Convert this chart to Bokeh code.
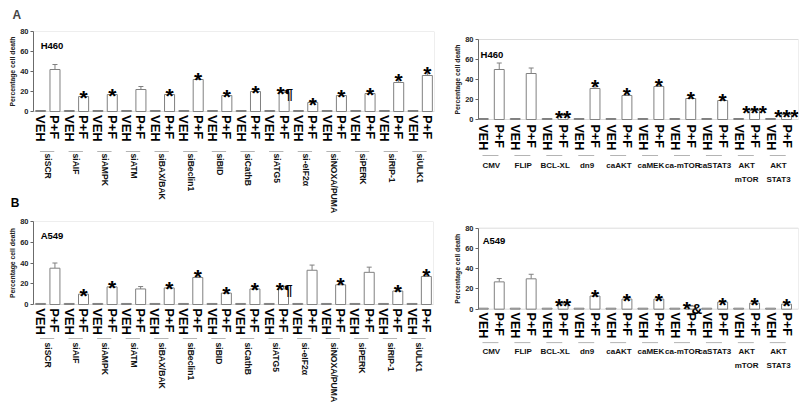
import math
from bokeh.plotting import figure
from bokeh.models import (Range1d, FixedTicker, BoxAnnotation, ColumnDataSource,
                          Whisker, TeeHead, Title, LinearAxis)
from bokeh.layouts import column, row
from bokeh.embed import file_html
from bokeh.resources import INLINE
from bokeh.core.properties import value

FONT = "Liberation Sans"
GRAY = "#808080"

# ---------------- data ----------------
sub_labels = ["VEH", "P+F"]
y_ticks = [0, 20, 40, 60, 80]
y_label = "Percentage cell death"

si_groups = ["siSCR", "siAIF", "siAMPK", "siATM", "siBAX/BAK", "siBeclin1", "siBID",
             "siCathB", "siATG5", "si-eIF2\u03b1", "siNOXA/PUMA", "siPERK", "siRIP-1", "siULK1"]
ov_groups = ["CMV", "FLIP", "BCL-XL", "dn9", "caAKT", "caMEK", "ca-mTOR", "caSTAT3",
             "AKT\nmTOR", "AKT\nSTAT3"]

# H460, siRNA panel
h460_si_veh = [1, 1, 1, 1, 1, 1, 1, 1, 1, 1, 1, 1, 1, 1]
h460_si_pf = [42, 15, 17, 22, 17, 32, 16, 20, 19, 9, 16, 18, 29, 36]
h460_si_err = [5, 2, 2, 3, 2, 3.5, 2, 2.5, 2, 1.5, 2, 2.5, 5, 5]
h460_si_marks = ["", "*", "*", "", "*", "*", "*", "*", "*\u00b6", "*", "*", "*", "*", "*"]

# H460, overexpression panel
h460_ov_veh = [1, 1, 1, 1, 1, 1, 1, 1, 1, 1]
h460_ov_pf = [50, 46, 4, 31, 24, 33, 21, 19, 9, 5]
h460_ov_err = [6.5, 5.5, 1, 5, 4, 4.3, 3.3, 3.3, 1.3, 1]
h460_ov_marks = ["", "", "**", "*", "*", "*", "*", "*", "***", "***"]

# A549, siRNA panel
a549_si_veh = [1, 1, 1, 1, 1, 1, 1, 1, 1, 1, 1, 1, 1, 1]
a549_si_pf = [35, 10, 17, 15, 16, 26, 11, 15, 15, 33, 19, 31, 13, 27]
a549_si_err = [5, 1.5, 2.5, 2.3, 2, 4, 2.3, 2, 2.6, 5, 3, 5, 2, 3.5]
a549_si_marks = ["", "*", "*", "", "*", "*", "*", "*", "*\u00b6", "", "*", "", "*", "*"]

# A549, overexpression panel
a549_ov_veh = [1, 1, 1, 1, 1, 1, 1, 1, 1, 1]
a549_ov_pf = [27, 30, 5, 13, 10, 10, 3, 7, 6, 5]
a549_ov_err = [3.3, 4.5, 1.3, 2.6, 2, 1.5, 0.7, 1, 1.3, 1.3]
a549_ov_marks = ["", "", "**", "*", "*", "*", "*&", "*", "*", "*"]


def make_panel(groups, veh, pf, err, marks, cell, g, title=None):
    n = len(groups)
    scale = g["scale"]
    ytop = 80 + (g["top80"] - g["mt"]) / scale
    ybot = ytop - g["fh"] / scale
    p = figure(frame_width=g["fw"], frame_height=g["fh"], output_backend="svg",
               toolbar_location=None, title=title,
               x_range=Range1d(g["x0"], 2 * n - 1 + g["x1"]), y_range=Range1d(ybot, ytop),
               x_axis_location=None, min_border_left=g["ml"], min_border_right=g["mr"],
               min_border_top=g["mt"], min_border_bottom=0)
    p.outline_line_color = None
    p.grid.visible = False
    p.background_fill_color = "white"

    ax = p.yaxis[0]
    ax.ticker = FixedTicker(ticks=y_ticks)
    ax.bounds = (0, 80)
    ax.major_label_text_font = FONT
    ax.major_label_text_font_size = "7.5px"
    ax.major_label_text_font_style = "bold"
    ax.major_label_text_color = "#222222"
    ax.major_label_standoff = 2
    ax.major_tick_in = 0
    ax.major_tick_out = 3
    ax.minor_tick_line_color = None
    ax.axis_line_color = "#666666"
    ax.major_tick_line_color = "#666666"

    # y-axis title, placed beside the 0-80 part of the axis
    label_len = 70
    off = g["fh"] - ((ytop - 40) * scale + label_len / 2)
    p.add_layout(Title(text=y_label, align="left", offset=off, standoff=3,
                       text_font=FONT, text_font_size="6.8px", text_font_style="bold",
                       text_color="#222222"), "left")

    p.add_layout(BoxAnnotation(bottom=0, top=80, fill_color=None, fill_alpha=0,
                               line_color="#8c8c8c", line_width=1))

    xs, tops, labs = [], [], []
    for i in range(n):
        xs += [2 * i, 2 * i + 1]
        tops += [veh[i], pf[i]]
        labs += sub_labels
    src_bar = ColumnDataSource(dict(x=xs, top=tops, label=labs))
    p.vbar(x="x", top="top", bottom=0, width=g["bw"], fill_color="white",
           line_color=GRAY, line_width=1, source=src_bar)

    px = [2 * i + 1 for i in range(n)]
    upper = [pf[i] + err[i] for i in range(n)]
    stars = [m.rstrip("\u00b6&") for m in marks]
    extras = [m[len(s):] for m, s in zip(marks, stars)]
    sx = [px[i] - (0.25 if extras[i] else 0) for i in range(n)]
    ex = [px[i] + 0.05 for i in range(n)]
    sy = [u - 3.0 / scale for u in upper]
    src_pf = ColumnDataSource(dict(x=px, top=pf, upper=upper, star=stars, extra=extras,
                                   sx=sx, ex=ex, sy=sy))
    p.add_layout(Whisker(source=src_pf, base="x", lower="top", upper="upper",
                         dimension="height", line_color=GRAY, line_width=1,
                         upper_head=TeeHead(size=5, line_color=GRAY, line_width=1),
                         lower_head=None))
    p.text(x="sx", y="sy", text="star", source=src_pf, text_font=value(FONT),
           text_font_size="21px", text_font_style="bold", text_align="center",
           text_baseline="alphabetic", text_color="black")
    p.text(x="ex", y="sy", text="extra", source=src_pf, text_font=value(FONT),
           text_font_size="15px", text_font_style="bold", text_align="left",
           text_baseline="alphabetic", text_color="black")

    # VEH / P+F labels
    p.text(x="x", y=g["sub_y"], text="label", source=src_bar, angle=-math.pi / 2,
           text_font=value(FONT), text_font_size=g["sub_fs"], text_font_style="bold",
           text_align="left", text_baseline="middle", text_color="black")

    # group underlines and labels
    gsrc = ColumnDataSource(dict(x0=[2 * i - 0.05 for i in range(n)],
                                 x1=[2 * i + 0.95 for i in range(n)],
                                 xc=[2 * i + 0.5 for i in range(n)],
                                 name=groups))
    p.segment(x0="x0", x1="x1", y0=g["line_y"], y1=g["line_y"], source=gsrc,
              line_color="#b4b4b4", line_width=1)
    if g["vertical"]:
        p.text(x="xc", y=g["grp_y"], text="name", source=gsrc, angle=-math.pi / 2,
               text_font=value(FONT), text_font_size=g["grp_fs"], text_font_style="bold",
               text_align="left", text_baseline="middle", text_color="#111111")
    else:
        p.text(x="xc", y=g["grp_y"], text="name", source=gsrc,
               text_font=value(FONT), text_font_size=g["grp_fs"], text_font_style="bold",
               text_align="center", text_baseline="top", text_line_height=1.55,
               text_color="#111111")

    p.text(x=[g["cell_x"]], y=[g["cell_y"]], text=[cell], text_font=value(FONT),
           text_font_size="9.5px", text_font_style="bold", text_align="left",
           text_baseline="alphabetic", text_color="black")
    return p


# rows share frame top (mt) and frame height (fh); top80 = where the 80 line sits
geo_a1 = dict(fw=401, fh=186, ml=33, mr=14, mt=29, top80=29, scale=1.0, bw=0.7,
              x0=-0.5, x1=0.5, sub_y=-3.5, sub_fs="13px", line_y=-40, grp_y=-42,
              grp_fs="8.6px", vertical=True, cell_x=0.0, cell_y=66)
geo_a2 = dict(fw=320, fh=186, ml=30, mr=2, mt=29, top80=37, scale=1.0, bw=0.62,
              x0=-0.3, x1=0.75, sub_y=-5, sub_fs="12.5px", line_y=-36, grp_y=-41.6,
              grp_fs="8px", vertical=False, cell_x=-0.17, cell_y=65)
geo_b1 = dict(fw=400, fh=189, ml=33, mr=15, mt=4, top80=4, scale=1.0375, bw=0.7,
              x0=-0.5, x1=0.5, sub_y=-3.5, sub_fs="13px", line_y=-32.8, grp_y=-36.6,
              grp_fs="8.6px", vertical=True, cell_x=0.0, cell_y=66.5)
geo_b2 = dict(fw=320, fh=189, ml=30, mr=2, mt=4, top80=10.7, scale=1.0125, bw=0.62,
              x0=-0.3, x1=0.75, sub_y=-3.3, sub_fs="12.5px", line_y=-33, grp_y=-37.8,
              grp_fs="8px", vertical=False, cell_x=-0.04, cell_y=67.9)

pa1 = make_panel(si_groups, h460_si_veh, h460_si_pf, h460_si_err, h460_si_marks, "H460",
                 geo_a1, title="A")
pa2 = make_panel(ov_groups, h460_ov_veh, h460_ov_pf, h460_ov_err, h460_ov_marks, "H460", geo_a2)
pb1 = make_panel(si_groups, a549_si_veh, a549_si_pf, a549_si_err, a549_si_marks, "A549", geo_b1)
pb2 = make_panel(ov_groups, a549_ov_veh, a549_ov_pf, a549_ov_err, a549_ov_marks, "A549", geo_b2)

# panel letter A (title of the top-left panel)
pa1.title.align = "left"
pa1.title.offset = -21
pa1.title.standoff = 15
pa1.title.vertical_align = "top"
pa1.title.text_font = FONT
pa1.title.text_font_size = "12px"
pa1.title.text_font_style = "bold"

# panel letter B, drawn as a tick label of an extra, invisible axis
yb = -91
letter_axis = LinearAxis(ticker=FixedTicker(ticks=[yb]), major_label_overrides={yb: "B"},
                         axis_line_color=None, major_tick_line_color=None,
                         minor_tick_line_color=None, major_tick_in=0, major_tick_out=0,
                         major_label_standoff=-14, major_label_orientation="horizontal",
                         major_label_text_font=FONT, major_label_text_font_size="12px",
                         major_label_text_font_style="bold", major_label_text_color="black")
pa1.add_layout(letter_axis, "left")

layout = column(row(pa1, pa2), row(pb1, pb2))
open("out.html", "w").write(file_html(layout, INLINE))
